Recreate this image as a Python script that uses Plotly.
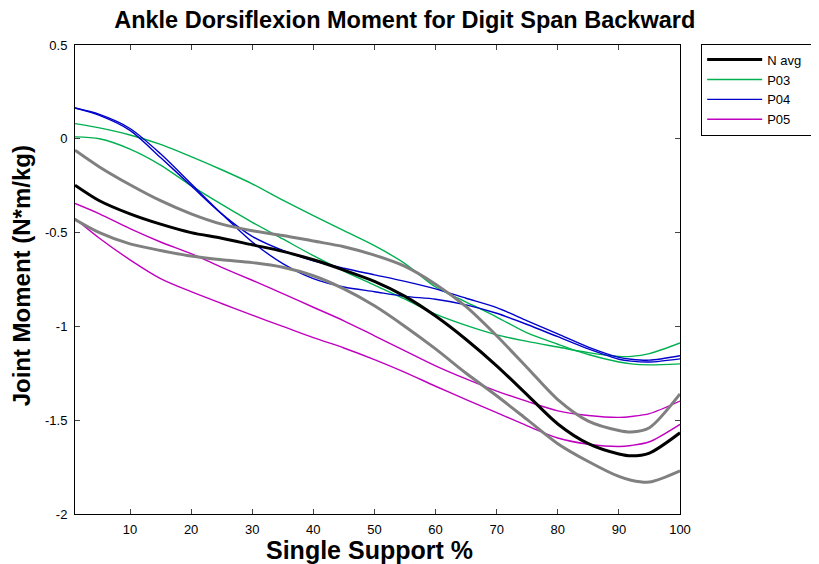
import plotly.graph_objects as go

# Single support % samples
x = [1, 5, 10, 15, 20, 25, 30, 35, 40, 45, 50, 55, 60, 65, 70, 75, 80, 85, 90, 92, 95, 100]

n_avg = [-0.247, -0.33, -0.40, -0.455, -0.50, -0.53, -0.565, -0.60, -0.645, -0.70, -0.76,
         -0.84, -0.945, -1.07, -1.21, -1.365, -1.52, -1.625, -1.68, -1.69, -1.675, -1.567]
sd_upper = [-0.061, -0.15, -0.245, -0.33, -0.40, -0.455, -0.49, -0.515, -0.545, -0.575, -0.62,
            -0.68, -0.775, -0.895, -1.05, -1.22, -1.39, -1.505, -1.555, -1.563, -1.54, -1.36]
sd_lower = [-0.43, -0.50, -0.56, -0.595, -0.625, -0.645, -0.66, -0.685, -0.73, -0.80, -0.89,
            -1.0, -1.12, -1.25, -1.37, -1.497, -1.625, -1.72, -1.80, -1.82, -1.83, -1.77]
p03_a = [0.081, 0.058, 0.02, -0.03, -0.095, -0.165, -0.24, -0.327, -0.41, -0.49, -0.57,
         -0.665, -0.79, -0.87, -0.95, -1.035, -1.095, -1.15, -1.19, -1.20, -1.205, -1.20]
p03_b = [0.01, 0.0, -0.055, -0.14, -0.25, -0.35, -0.445, -0.534, -0.623, -0.705, -0.78,
         -0.855, -0.935, -0.995, -1.045, -1.08, -1.11, -1.14, -1.16, -1.16, -1.145, -1.088]
p04_a = [0.164, 0.125, 0.045, -0.10, -0.25, -0.40, -0.52, -0.595, -0.65, -0.69, -0.725,
         -0.76, -0.80, -0.85, -0.90, -0.97, -1.04, -1.11, -1.165, -1.175, -1.18, -1.156]
p04_b = [0.164, 0.13, 0.055, -0.08, -0.24, -0.40, -0.55, -0.665, -0.745, -0.79, -0.815,
         -0.84, -0.855, -0.885, -0.93, -0.99, -1.055, -1.12, -1.175, -1.185, -1.19, -1.173]
p05_a = [-0.345, -0.40, -0.479, -0.55, -0.612, -0.685, -0.754, -0.825, -0.898, -0.97, -1.05,
         -1.13, -1.21, -1.28, -1.345, -1.40, -1.45, -1.475, -1.485, -1.48, -1.465, -1.398]
p05_b = [-0.425, -0.53, -0.645, -0.745, -0.815, -0.878, -0.94, -1.0, -1.06, -1.115, -1.177,
         -1.245, -1.319, -1.39, -1.46, -1.53, -1.595, -1.628, -1.64, -1.635, -1.615, -1.522]

x_ticks = [10, 20, 30, 40, 50, 60, 70, 80, 90, 100]
y_ticks = [0.5, 0, -0.5, -1, -1.5, -2]
y_tick_text = ["0.5", "0", "-0.5", "-1", "-1.5", "-2"]

GREEN = "#00B050"
BLUE = "#0000CC"
MAGENTA = "#BF00BF"
GRAY = "#808080"

fig = go.Figure()

def add(y, color, width, name, show, rank):
    fig.add_trace(go.Scatter(x=x, y=y, mode="lines", name=name, showlegend=show,
                             legendrank=rank,
                             line=dict(color=color, width=width, shape="spline", smoothing=0.8)))

add(p03_a, GREEN, 1.4, "P03", True, 2)
add(p03_b, GREEN, 1.4, "P03", False, 2)
add(p04_a, BLUE, 1.4, "P04", True, 3)
add(p04_b, BLUE, 1.4, "P04", False, 3)
add(p05_a, MAGENTA, 1.4, "P05", True, 4)
add(p05_b, MAGENTA, 1.4, "P05", False, 4)
add(sd_upper, GRAY, 3, "SD+", False, 5)
add(sd_lower, GRAY, 3, "SD-", False, 5)
add(n_avg, "black", 3, "N avg\u00a0\u00a0", True, 1)

font_family = "Liberation Sans, Arial, sans-serif"

fig.update_layout(
    width=819, height=556,
    margin=dict(l=67, r=145, t=37, b=50),
    paper_bgcolor="white", plot_bgcolor="white",
    font=dict(family=font_family, color="black", size=13),
    title=dict(text="<b>Ankle Dorsiflexion Moment for Digit Span Backward</b>",
               x=0.545, xref="paper", xanchor="center", y=0.978, yanchor="middle",
               font=dict(size=23.5, family=font_family, color="black")),
    legend=dict(x=1.035, y=1.003, xanchor="left", yanchor="top",
                bordercolor="black", borderwidth=1, bgcolor="white",
                font=dict(size=13, family=font_family, color="black"),
                tracegroupgap=0, itemwidth=55),
    showlegend=True,
    annotations=[
        dict(text="<b>Single Support %</b>", xref="paper", yref="paper",
             x=0.487, y=-0.077, xanchor="center", yanchor="middle",
             showarrow=False, font=dict(size=25, family=font_family, color="black")),
        dict(text="<b>Joint Moment (N*m/kg)</b>", xref="paper", yref="paper",
             x=-0.089, y=0.507, xanchor="center", yanchor="middle", textangle=-90,
             showarrow=False, font=dict(size=24, family=font_family, color="black")),
    ],
)

fig.update_xaxes(range=[1, 100], tickvals=x_ticks, ticks="inside", ticklen=5,
                 showline=True, linecolor="black", linewidth=1, mirror="ticks",
                 showgrid=False, zeroline=False, automargin=False,
                 tickfont=dict(size=13), ticklabelstandoff=3)
fig.update_yaxes(range=[-2, 0.5], tickvals=y_ticks, ticktext=y_tick_text, ticks="inside",
                 ticklen=5, showline=True, linecolor="black", linewidth=1, mirror="ticks",
                 showgrid=False, zeroline=False, automargin=False,
                 tickfont=dict(size=13), ticklabelstandoff=4)

fig.write_html("out.html")
